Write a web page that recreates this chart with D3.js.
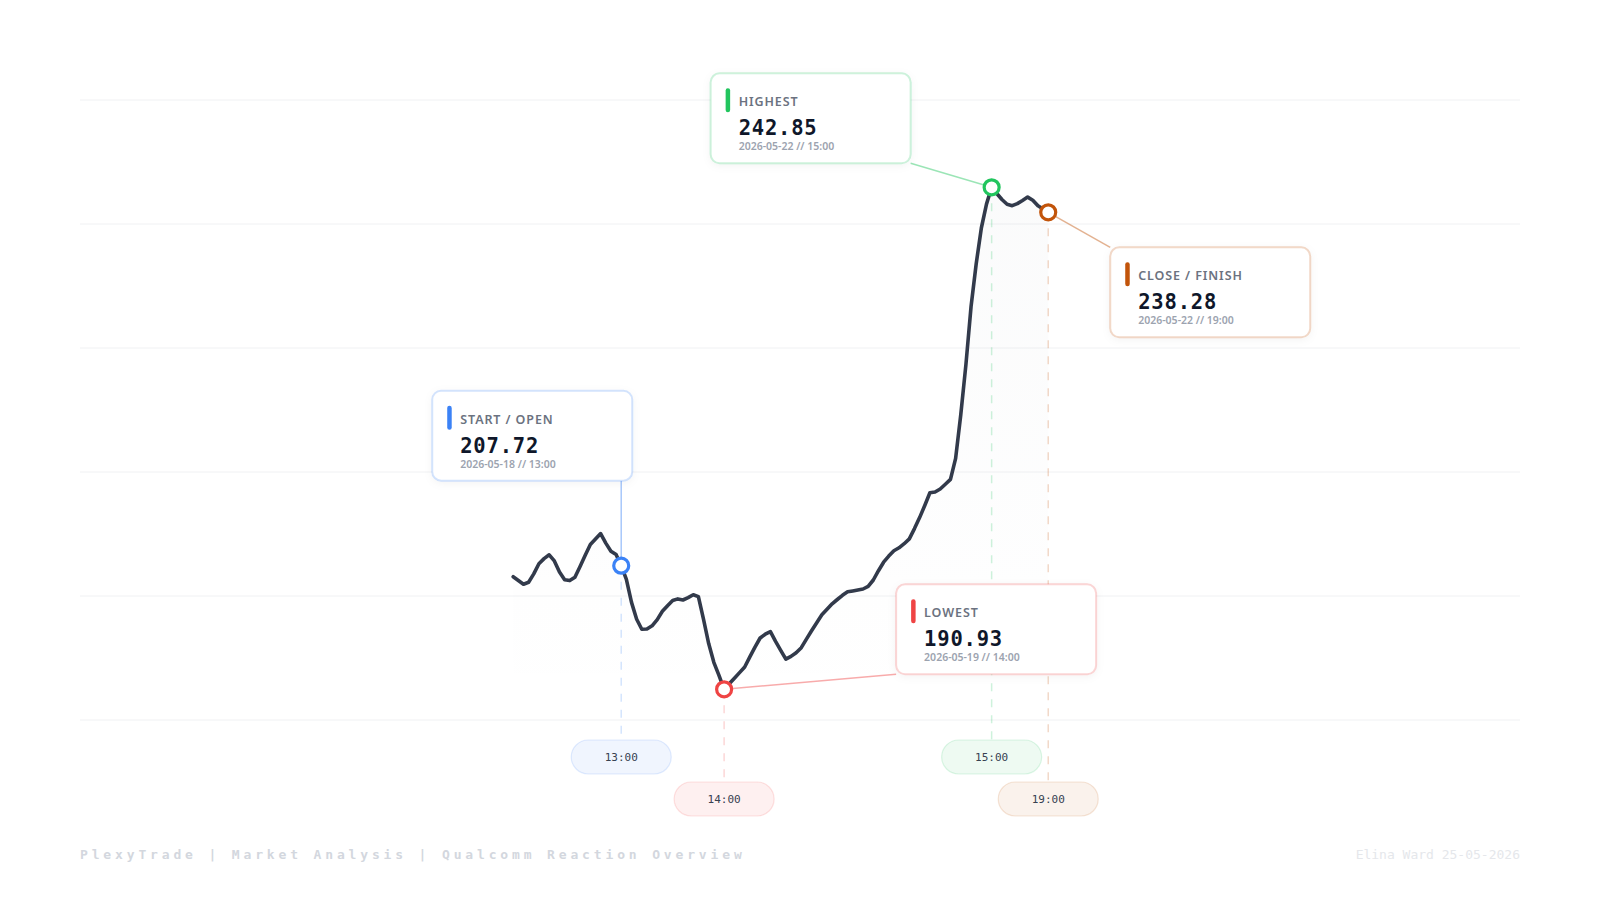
<!DOCTYPE html>
<html>
<head>
<meta charset="utf-8">
<script src="https://cdn.jsdelivr.net/npm/d3@7"></script>
<style>
html, body { margin: 0; padding: 0; background: #fff; }
svg { display: block; }
</style>
</head>
<body>
<svg id="chart" width="1600" height="900"></svg>
<script>
// ***************** DATA ********************
// hourly closes
var prices = [
	202.33, 201.95, 201.57, 201.77, 202.61, 203.63, 204.14, 204.52, 203.91, 202.80,
	202.03, 201.94, 202.27, 203.35, 204.47, 205.55, 206.10, 206.64, 205.69, 204.88,
	204.54, 203.43, 202.06, 199.76, 198.08, 197.08, 197.10, 197.42, 198.04, 198.87,
	199.43, 199.95, 200.11, 200.00, 200.24, 200.53, 200.34, 198.06, 195.64, 193.77,
	192.47, 191.07, 191.62, 192.17, 192.74, 193.30, 194.31, 195.28, 196.20, 196.58,
	196.84, 195.87, 194.97, 194.08, 194.36, 194.73, 195.23, 196.09, 196.93, 197.73,
	198.52, 199.07, 199.62, 200.05, 200.47, 200.82, 200.91, 201.01, 201.10, 201.36,
	202.00, 202.93, 203.78, 204.39, 204.93, 205.22, 205.63, 206.11, 207.14, 208.24,
	209.45, 210.72, 210.80, 211.10, 211.58, 212.06, 214.16, 218.53, 223.54, 229.35,
	233.63, 237.20, 239.59, 241.27, 240.65, 240.05, 239.57, 239.43, 239.64, 239.95,
	240.29, 239.97, 239.42, 239.10, 238.77
];
var gridValues = [188, 200.4, 212.8, 225.2, 237.6, 250];
var openIndex = 21;

var markerTitles = ["START / OPEN", "LOWEST", "HIGHEST", "CLOSE / FINISH"];
var markerLabels = ["207.72", "190.93", "242.85", "238.28"];
var markerDates = ["2026-05-18", "2026-05-19", "2026-05-22", "2026-05-22"];
var markerTimes = ["13:00", "14:00", "15:00", "19:00"];
var markerColors = ["#3b82f6", "#ef4444", "#22c55e", "#c2540a"];

var footerLeft = "PlexyTrade | Market Analysis | Qualcomm Reaction Overview";
var footerRight = "Elina Ward 25-05-2026";

// ***************** LAYOUT ********************
var W = 1600, H = 900;
var margin = {top: 100, right: 80, bottom: 180, left: 80};
var xDomain = [-84.2, 195.7];
var yDomain = [188, 250];
var cardW = 200, cardH = 90;
// card top-left relative to its marker
var cardOffsets = [[-189, -175], [172, -105], [-281, -114], [62, 35]];
var pillW = 100, pillH = 34;
var pillRows = [757, 799];

var svg = d3.select("#chart");

var x = d3.scaleLinear().domain(xDomain).range([margin.left, W - margin.right]);
var y = d3.scaleLinear().domain(yDomain).range([H - margin.bottom, margin.top]);

var defs = svg.append("defs");
var grad = defs.append("linearGradient")
	.attr("id", "areaFill").attr("x1", 0).attr("y1", 0).attr("x2", 0).attr("y2", 1);
grad.append("stop").attr("offset", "0%").attr("stop-color", "#334155").attr("stop-opacity", 0.022);
grad.append("stop").attr("offset", "100%").attr("stop-color", "#334155").attr("stop-opacity", 0);

var shadow = defs.append("filter").attr("id", "cardShadow")
	.attr("x", "-20%").attr("y", "-20%").attr("width", "140%").attr("height", "150%");
shadow.append("feDropShadow").attr("dx", 0).attr("dy", 2).attr("stdDeviation", 4)
	.attr("flood-color", "#000").attr("flood-opacity", 0.05);

// ***************** GRID ********************
svg.append("g").selectAll("line")
	.data(gridValues)
	.enter()
	.append("line")
	.attr("x1", margin.left)
	.attr("x2", W - margin.right)
	.attr("y1", function(d) { return y(d) })
	.attr("y2", function(d) { return y(d) })
	.attr("stroke", "#f0f1f3")
	.attr("stroke-width", 1);

// ***************** AREA + LINE ********************
var area = d3.area()
	.x(function(d, i) { return x(i) })
	.y0(y(yDomain[0]))
	.y1(function(d) { return y(d) });

svg.append("path")
	.datum(prices)
	.attr("d", area)
	.attr("fill", "url(#areaFill)");

// key points
var markers = [
	openIndex,
	d3.minIndex(prices),
	d3.maxIndex(prices),
	prices.length - 1
].map(function(idx, k) {
	var mx = x(idx), my = y(prices[idx]);
	var cx = mx + cardOffsets[k][0], cy = my + cardOffsets[k][1];
	return {
		idx: idx, mx: mx, my: my,
		cardX: cx, cardY: cy,
		title: markerTitles[k], label: markerLabels[k],
		date: markerDates[k], time: markerTimes[k],
		color: markerColors[k]
	};
});

// pills alternate rows from left to right
markers.slice().sort(function(a, b) { return a.mx - b.mx })
	.forEach(function(d, i) { d.pillY = pillRows[i % 2] });

// dashed drops to the time pills
svg.append("g").selectAll("line")
	.data(markers)
	.enter()
	.append("line")
	.attr("x1", function(d) { return d.mx })
	.attr("x2", function(d) { return d.mx })
	.attr("y1", function(d) { return d.my })
	.attr("y2", function(d) { return d.pillY - pillH / 2 })
	.attr("stroke", function(d) { return d.color })
	.attr("stroke-opacity", 0.22)
	.attr("stroke-width", 1.5)
	.attr("stroke-dasharray", "8,8");

var line = d3.line()
	.x(function(d, i) { return x(i) })
	.y(function(d) { return y(d) });

svg.append("path")
	.datum(prices)
	.attr("d", line)
	.attr("fill", "none")
	.attr("stroke", "#323a4b")
	.attr("stroke-width", 3.6)
	.attr("stroke-linejoin", "round")
	.attr("stroke-linecap", "round");

// leader lines: marker to nearest point of its card
svg.append("g").selectAll("line")
	.data(markers)
	.enter()
	.append("line")
	.attr("x1", function(d) { return d.mx })
	.attr("y1", function(d) { return d.my })
	.attr("x2", function(d) { return Math.max(d.cardX, Math.min(d.mx, d.cardX + cardW)) })
	.attr("y2", function(d) { return Math.max(d.cardY, Math.min(d.my, d.cardY + cardH)) })
	.attr("stroke", function(d) { return d.color })
	.attr("stroke-opacity", 0.45)
	.attr("stroke-width", 1.5);

// ***************** CARDS ********************
var cards = svg.append("g").selectAll("g")
	.data(markers)
	.enter()
	.append("g")
	.attr("transform", function(d) { return "translate(" + d.cardX + "," + d.cardY + ")" });

cards.append("rect")
	.attr("width", cardW)
	.attr("height", cardH)
	.attr("rx", 9)
	.attr("fill", "#fff")
	.attr("stroke", function(d) { return d.color })
	.attr("stroke-opacity", 0.22)
	.attr("stroke-width", 2)
	.attr("filter", "url(#cardShadow)");

cards.append("rect")
	.attr("x", 15).attr("y", 15)
	.attr("width", 4.5).attr("height", 24)
	.attr("rx", 2.2)
	.attr("fill", function(d) { return d.color });

cards.append("text")
	.attr("x", 28).attr("y", 33)
	.attr("font-family", "'Noto Sans', 'Open Sans', sans-serif")
	.attr("font-size", 12.5)
	.attr("font-weight", 600)
	.attr("letter-spacing", 0.9)
	.attr("fill", "#6b7280")
	.text(function(d) { return d.title });

cards.append("text")
	.attr("x", 28).attr("y", 62)
	.attr("font-family", "'DejaVu Sans Mono', monospace")
	.attr("font-size", 20.5)
	.attr("font-weight", 700)
	.attr("letter-spacing", 0.8)
	.attr("fill", "#0f172a")
	.text(function(d) { return d.label });

cards.append("text")
	.attr("x", 28).attr("y", 77)
	.attr("font-family", "'Noto Sans', 'Open Sans', sans-serif")
	.attr("font-size", 10.5)
	.attr("font-weight", 600)
	.attr("fill", "#9ca3af")
	.text(function(d) { return d.date + " // " + d.time });

// ***************** MARKERS ********************
svg.append("g").selectAll("circle")
	.data(markers)
	.enter()
	.append("circle")
	.attr("cx", function(d) { return d.mx })
	.attr("cy", function(d) { return d.my })
	.attr("r", 7.5)
	.attr("fill", "#fff")
	.attr("stroke", function(d) { return d.color })
	.attr("stroke-width", 3.2);

// ***************** TIME PILLS ********************
var pills = svg.append("g").selectAll("g")
	.data(markers)
	.enter()
	.append("g")
	.attr("transform", function(d) { return "translate(" + d.mx + "," + d.pillY + ")" });

pills.append("rect")
	.attr("x", -pillW / 2).attr("y", -pillH / 2)
	.attr("width", pillW).attr("height", pillH)
	.attr("rx", pillH / 2)
	.attr("fill", function(d) { return d.color })
	.attr("fill-opacity", 0.08)
	.attr("stroke", function(d) { return d.color })
	.attr("stroke-opacity", 0.15)
	.attr("stroke-width", 1.2);

pills.append("text")
	.attr("text-anchor", "middle")
	.attr("dy", "0.36em")
	.attr("font-family", "'DejaVu Sans Mono', monospace")
	.attr("font-size", 11)
	.attr("fill", "#374151")
	.text(function(d) { return d.time });

// ***************** FOOTER ********************
svg.append("text")
	.attr("x", margin.left).attr("y", 859)
	.attr("font-family", "'DejaVu Sans Mono', monospace")
	.attr("font-size", 13)
	.attr("font-weight", 700)
	.attr("letter-spacing", 3.85)
	.attr("fill", "#d3d7de")
	.text(footerLeft);

svg.append("text")
	.attr("x", W - margin.right).attr("y", 859)
	.attr("text-anchor", "end")
	.attr("font-family", "'DejaVu Sans Mono', monospace")
	.attr("font-size", 13)
	.attr("fill", "#e5e7eb")
	.text(footerRight);
</script>
</body>
</html>
